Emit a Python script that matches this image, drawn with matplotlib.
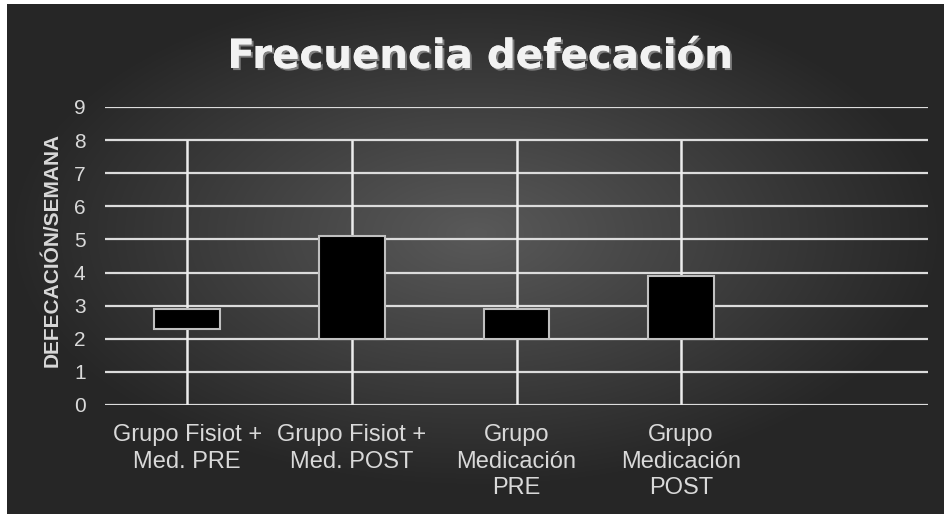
import numpy as np
import matplotlib.pyplot as plt
import matplotlib.patheffects as pe

################################## DATA ##################################

categories = ['Grupo Fisiot +\nMed. PRE', 'Grupo Fisiot +\nMed. POST',
              'Grupo\nMedicación\nPRE', 'Grupo\nMedicación\nPOST']
line_low = [0, 0, 0, 0]
line_high = [8, 8, 8, 8]
box_low = [2.3, 2.0, 2.0, 2.0]
box_high = [2.9, 5.1, 2.9, 3.9]
yticks = list(range(10))

################################## FIGURE ##################################

fig = plt.figure(figsize=(9.45, 5.14), dpi=100, facecolor='white')

# radial gradient background
bg = fig.add_axes([7/945, 0, 1 - 7/945, 1 - 4/514])
bg.set_axis_off()
gx, gy = np.meshgrid(np.linspace(-1, 1, 400), np.linspace(-1, 1, 220))
r = np.sqrt((gx/1.1)**2 + ((gy + 0.1)/1.1)**2)
shade = np.clip(0.35 - 0.22*r, 0.15, 0.35)
bg.imshow(np.dstack([shade]*3), aspect='auto', extent=[0, 1, 0, 1],
          interpolation='bicubic')

ax = fig.add_axes([105/945, 1 - 405/514, 823/945, 298/514])
ax.set_facecolor('none')

x = np.arange(len(categories))

for yv in yticks:
    ax.axhline(yv, color='#dcdcdc', linewidth=1.6, zorder=1)

ax.vlines(x, line_low, line_high, color='#ececec', linewidth=1.8, zorder=2)
ax.bar(x, np.array(box_high) - np.array(box_low), bottom=box_low, width=0.4,
       color='black', edgecolor='#c0c0c0', linewidth=1.5, zorder=3)

ax.set_xlim(-0.5, 4.5)
ax.set_ylim(0, 9)
ax.set_yticks(yticks)
ax.set_xticks(x)
ax.set_xticklabels(categories, linespacing=1.25)
for s in ax.spines.values():
    s.set_visible(False)
ax.tick_params(axis='both', length=0, colors='#d9d9d9',
               labelfontfamily='Liberation Sans')
ax.tick_params(axis='y', pad=14, labelsize=15)
ax.tick_params(axis='x', pad=14, labelsize=17)

ax.set_ylabel('DEFECACIÓN/SEMANA', color='#d9d9d9', fontsize=15,
              fontweight='bold', family='Liberation Sans')
ax.yaxis.set_label_coords(-0.053, 0.52)

fig.text(480/945, 1 - 68/514, 'Frecuencia defecación', ha='center', va='baseline',
         fontsize=29, fontweight='bold', color='#f2f2f2', family='DejaVu Sans',
         path_effects=[pe.withSimplePatchShadow(offset=(1.5, -1.5),
                                                shadow_rgbFace='#7f7f7f', alpha=1),
                       pe.Normal()])

fig.savefig('out.png', dpi=100)
